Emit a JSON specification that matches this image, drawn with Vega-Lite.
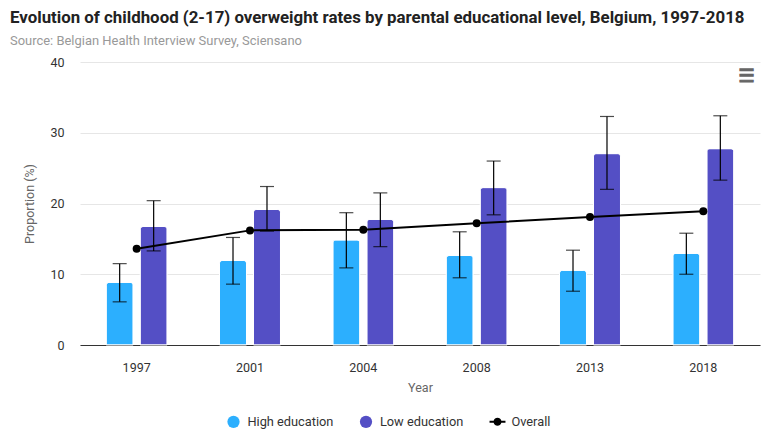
{
"$schema":"https://vega.github.io/schema/vega-lite/v6.json",
"width":680,"height":283,
"autosize":{"type":"none"},
"padding":{"left":80,"top":62,"right":18,"bottom":103},
"background":"white",
"title":{"text":"Evolution of childhood (2-17) overweight rates by parental educational level, Belgium, 1997-2018","subtitle":"Source: Belgian Health Interview Survey, Sciensano","anchor":"start","frame":"group","dx":-70,"offset":8,"font":"Roboto","fontSize":16.85,"fontWeight":"bold","color":"#222222","subtitleFont":"Roboto","subtitleFontSize":12.95,"subtitleColor":"#999999","subtitlePadding":8},
"config":{"font":"Roboto","view":{"stroke":null}},
"datasets":{
"bars":[
{"year":"1997","series":"High education","value":8.85,"low":6.1,"high":11.5},
{"year":"1997","series":"Low education","value":16.75,"low":13.3,"high":20.4},
{"year":"2001","series":"High education","value":11.95,"low":8.6,"high":15.2},
{"year":"2001","series":"Low education","value":19.15,"low":16.1,"high":22.4},
{"year":"2004","series":"High education","value":14.85,"low":10.9,"high":18.7},
{"year":"2004","series":"Low education","value":17.75,"low":13.9,"high":21.5},
{"year":"2008","series":"High education","value":12.65,"low":9.5,"high":16.0},
{"year":"2008","series":"Low education","value":22.25,"low":18.4,"high":26.0},
{"year":"2013","series":"High education","value":10.55,"low":7.6,"high":13.4},
{"year":"2013","series":"Low education","value":27.05,"low":22.0,"high":32.3},
{"year":"2018","series":"High education","value":12.95,"low":10.0,"high":15.8},
{"year":"2018","series":"Low education","value":27.75,"low":23.3,"high":32.4}],
"overall":[
{"year":"1997","series":"Overall","value":13.6},
{"year":"2001","series":"Overall","value":16.2},
{"year":"2004","series":"Overall","value":16.3},
{"year":"2008","series":"Overall","value":17.2},
{"year":"2013","series":"Overall","value":18.1},
{"year":"2018","series":"Overall","value":18.9}],
"menu":[{"year":"2018","y":37.9,"label":"☰"}]
},
"encoding":{
"x":{"field":"year","type":"nominal","scale":{"domain":["1997","2001","2004","2008","2013","2018"],"paddingInner":0.462,"paddingOuter":0.231},
"axis":{"title":"Year","titleFont":"Roboto","titleFontSize":12.5,"titleFontWeight":"normal","titleColor":"#666666","titlePadding":8,"labelAngle":0,"labelFont":"Roboto","labelFontSize":12.5,"labelColor":"#333333","labelPadding":16,"ticks":false,"domainColor":"#333333","domainWidth":1,"grid":false}}
},
"layer":[
{"data":{"name":"bars"},
"mark":{"type":"bar","cornerRadiusTopLeft":3,"cornerRadiusTopRight":3,"stroke":"white","strokeWidth":1},
"encoding":{
"xOffset":{"field":"series","type":"nominal","scale":{"domain":["High education","Low education"],"paddingInner":0.206}},
"y":{"field":"value","type":"quantitative","scale":{"domain":[0,40]},"axis":{"title":"Proportion (%)","titleFont":"Roboto","titleFontSize":12.5,"titleFontWeight":"normal","titleColor":"#666666","titlePadding":13,"values":[0,10,20,30,40],"labelFont":"Roboto","labelFontSize":12.5,"labelColor":"#333333","labelPadding":16,"ticks":false,"domain":false,"gridColor":"#e6e6e6","gridWidth":1}},
"color":{"field":"series","type":"nominal","scale":{"domain":["High education","Low education","Overall"],"range":["#2caffe","#544fc5","#000000"]},"legend":{"title":null,"orient":"none","direction":"horizontal","legendX":147,"legendY":353,"labelFont":"Roboto","labelFontSize":12.8,"labelColor":"#333333","labelOffset":7.4,"symbolSize":150,"symbolOpacity":1,"columnPadding":25.5,"symbolStrokeWidth":0}}
}},
{"data":{"name":"bars"},
"mark":{"type":"rule","color":"black","strokeWidth":1.2},
"encoding":{
"xOffset":{"field":"series","type":"nominal"},
"y":{"field":"low","type":"quantitative"},
"y2":{"field":"high"}
}},
{"data":{"name":"bars"},
"mark":{"type":"tick","color":"black","thickness":1.2,"size":14,"orient":"horizontal"},
"encoding":{"xOffset":{"field":"series","type":"nominal"},"y":{"field":"low","type":"quantitative"}}},
{"data":{"name":"bars"},
"mark":{"type":"tick","color":"black","thickness":1.2,"size":14,"orient":"horizontal"},
"encoding":{"xOffset":{"field":"series","type":"nominal"},"y":{"field":"high","type":"quantitative"}}},
{"data":{"name":"overall"},
"mark":{"type":"line","color":"black","strokeWidth":2},
"encoding":{"y":{"field":"value","type":"quantitative"}}},
{"data":{"name":"overall"},
"mark":{"type":"point","filled":true,"opacity":1,"size":64,"color":"black","shape":"circle"},
"encoding":{"y":{"field":"value","type":"quantitative"}}},
{"data":{"name":"overall"},
"mark":{"type":"point","filled":true,"opacity":0},
"encoding":{
"y":{"field":"value","type":"quantitative"},
"color":{"field":"series","type":"nominal","legend":{"title":null,"orient":"none","direction":"horizontal","legendX":147,"legendY":353,"labelFont":"Roboto","labelFontSize":12.8,"labelColor":"#333333","labelOffset":7.4,"symbolSize":150,"symbolOpacity":1,"columnPadding":25.5,"symbolStrokeWidth":0}},
"shape":{"field":"series","type":"nominal","scale":{"domain":["High education","Low education","Overall"],"range":["circle","circle","M-1.3,-0.16H-0.63A0.65,0.65 0 0 1 0.63,-0.16H1.3V0.16H0.63A0.65,0.65 0 0 1 -0.63,0.16H-1.3Z"]},"legend":{"title":null,"orient":"none","direction":"horizontal","legendX":147,"legendY":353,"labelFont":"Roboto","labelFontSize":12.8,"labelColor":"#333333","labelOffset":7.4,"symbolSize":150,"symbolOpacity":1,"columnPadding":25.5,"symbolStrokeWidth":0}}
}},
{"data":{"name":"menu"},
"mark":{"type":"text","dx":43,"fontSize":18,"fontWeight":"bold","color":"#666666","stroke":"#666666","strokeWidth":1.2,"font":"DejaVu Sans"},
"encoding":{"y":{"field":"y","type":"quantitative"},"text":{"field":"label"}}}
]
}
